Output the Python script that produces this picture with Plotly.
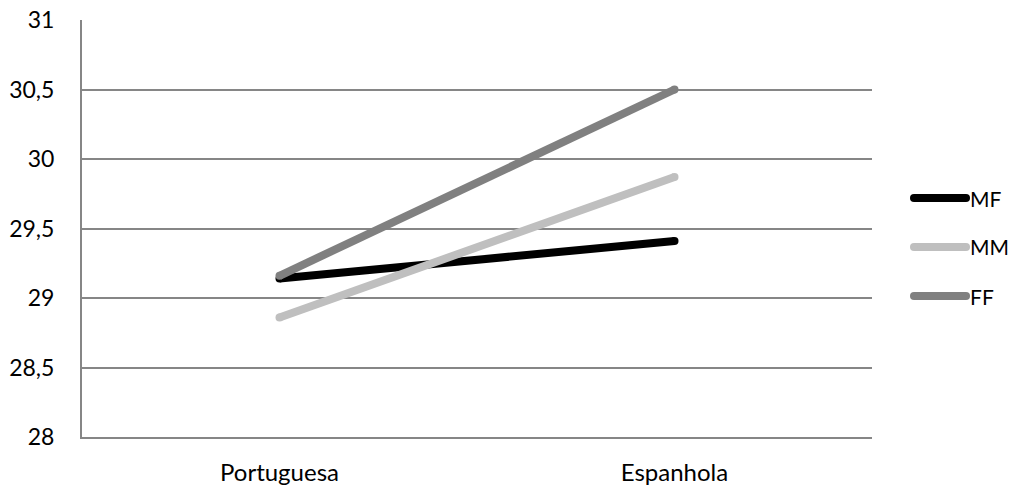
import plotly.graph_objects as go

# Categories and series values
categories = ["Portuguesa", "Espanhola"]
series_names = ["MF", "MM", "FF"]
mf_values = [29.14, 29.41]
mm_values = [28.86, 29.87]
ff_values = [29.16, 30.5]
series_colors = ["#000000", "#bfbfbf", "#808080"]

y_tick_vals = [28, 28.5, 29, 29.5, 30, 30.5, 31]
y_tick_text = ["28", "28,5", "29", "29,5", "30", "30,5", "31"]

FONT = "Lato, Carlito, Calibri, sans-serif"
LINE_W = 8

PLOT_L, PLOT_R, PLOT_T, PLOT_B = 82, 872, 20, 437
PW, PH = PLOT_R - PLOT_L, PLOT_B - PLOT_T

fig = go.Figure()
for name, vals, color in zip(series_names, [mf_values, mm_values, ff_values], series_colors):
    fig.add_trace(go.Scatter(
        x=categories, y=vals, name=name, mode="lines+markers",
        line=dict(color=color, width=LINE_W),
        marker=dict(color=color, size=LINE_W, line=dict(width=0)),
        showlegend=False, hoverinfo="x+y+name",
    ))

# Legend drawn as rounded line keys with labels on the right of the plot
def px_x(px):
    return (px - PLOT_L) / PW

def px_y(px):
    return (PLOT_B - px) / PH

shapes = []
annotations = []
key_x0, key_x1 = 914, 966
rx, ry = 4 / PW, 4 / PH
for i, (name, color) in enumerate(zip(series_names, series_colors)):
    yy = px_y(198 + i * 49)
    shapes.append(dict(type="line", xref="paper", yref="paper",
                       x0=px_x(key_x0), x1=px_x(key_x1), y0=yy, y1=yy,
                       line=dict(color=color, width=LINE_W)))
    for xe in (px_x(key_x0), px_x(key_x1)):
        shapes.append(dict(type="circle", xref="paper", yref="paper",
                           x0=xe - rx, x1=xe + rx, y0=yy - ry, y1=yy + ry,
                           fillcolor=color, line=dict(width=0)))
    annotations.append(dict(x=px_x(969), y=yy, xref="paper", yref="paper",
                            text=name, showarrow=False, xanchor="left",
                            yanchor="middle", borderpad=0,
                            font=dict(family=FONT, size=21, color="#000")))

fig.update_layout(
    width=1020, height=486,
    margin=dict(l=PLOT_L, r=1020 - PLOT_R, t=PLOT_T, b=486 - PLOT_B, pad=0),
    paper_bgcolor="white", plot_bgcolor="white",
    font=dict(family=FONT, size=23, color="#000"),
    shapes=shapes, annotations=annotations,
    xaxis=dict(
        type="category", range=[-0.5, 1.5], automargin=False,
        showgrid=False, showline=True, linecolor="#868686", linewidth=2,
        ticks="", tickfont=dict(size=24), ticklabelstandoff=13,
        fixedrange=True,
    ),
    yaxis=dict(
        range=[28, 31], tickvals=y_tick_vals, ticktext=y_tick_text,
        automargin=False,
        showgrid=True, gridcolor="#868686", gridwidth=2,
        showline=True, linecolor="#868686", linewidth=2,
        zeroline=False, ticks="", tickfont=dict(size=23),
        ticklabelstandoff=21, fixedrange=True,
    ),
)

fig.write_html("out.html")
